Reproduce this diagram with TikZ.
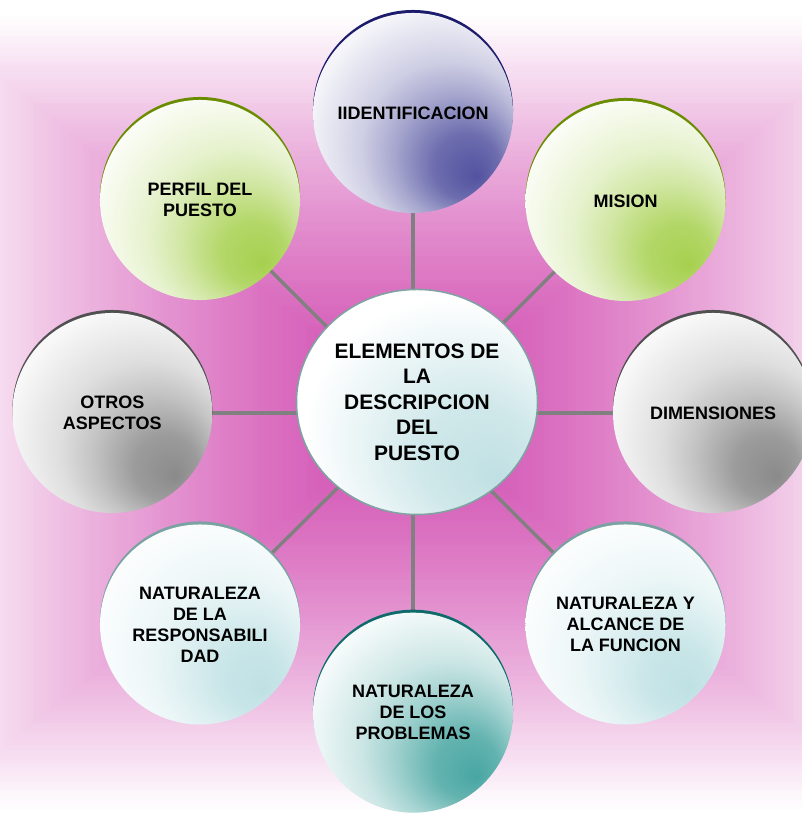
\documentclass[tikz,border=0pt]{standalone}
\usepackage{fontspec}
\setmainfont{Liberation Sans}
\usepackage{tikz}
\usetikzlibrary{shapes.geometric}
\definecolor{dpMagenta}{RGB}{210,79,178}
\definecolor{dpSpoke}{RGB}{128,128,128}
\definecolor{dpNavy}{RGB}{82,82,160}
\definecolor{dpNavyArc}{RGB}{28,28,108}
\definecolor{dpGreen}{RGB}{166,208,78}
\definecolor{dpGreenArc}{RGB}{106,140,0}
\definecolor{dpGray}{RGB}{138,138,138}
\definecolor{dpGrayArc}{RGB}{80,80,80}
\definecolor{dpMist}{RGB}{191,225,228}
\definecolor{dpMistArc}{RGB}{122,162,162}
\definecolor{dpTeal}{RGB}{72,166,162}
\definecolor{dpTealArc}{RGB}{15,107,107}
\definecolor{dpCore}{RGB}{192,224,227}
\definecolor{dpCoreLine}{RGB}{128,162,162}

\pgfdeclarelayer{backdrop}
\pgfdeclarelayer{spokes}
\pgfsetlayers{backdrop,spokes,main}

% white top-left, colour pooling bottom-right
\newcommand\ringshade[2]{\pgfdeclareradialshading{#1}{\pgfpoint{16bp}{-16bp}}{%
  color(0bp)=(#2); color(8bp)=(#2!85!white); color(16bp)=(#2!50!white);
  color(22bp)=(#2!28!white); color(32bp)=(#2!6!white);
  color(40bp)=(white); color(50bp)=(white)}}
\ringshade{navyRing}{dpNavy}
\ringshade{greenRing}{dpGreen}
\ringshade{grayRing}{dpGray}
\ringshade{mistRing}{dpMist}
\ringshade{tealRing}{dpTeal}
\pgfdeclareradialshading{coreGlow}{\pgfpoint{17bp}{-17bp}}{%
  color(0bp)=(dpCore); color(12bp)=(dpCore!75!white);
  color(30bp)=(white); color(50bp)=(white)}

\begin{document}
\begin{tikzpicture}[x=0.025cm, y=0.025cm,
  topic/.style 2 args={circle, minimum size=5cm, inner sep=0pt,
                       shade, shading=#1,
                       preaction={fill=#2, transform canvas={yshift=0.075cm}},
                       align=center, font=\bfseries\fontsize{12.8}{14.9}\selectfont},
  corebox/.style={ellipse, minimum width=6.025cm, minimum height=5.625cm,
                  inner sep=0pt, shade, shading=coreGlow,
                  draw=dpCoreLine, line width=1.1pt,
                  align=center, font=\bfseries\fontsize{14.9}{18.1}\selectfont},
  spoke/.style={draw=dpSpoke, line width=2.4pt}
]
\useasboundingbox (0,0) rectangle (801,813);
%% Pink backdrop, rectangular fade to white
\begin{pgfonlayer}{backdrop}
\fill[white] (0,0) rectangle (801,813);
\foreach \i in {120,...,1}{
  \pgfmathsetmacro\t{\i/120}
  \pgfmathtruncatemacro\pct{100*(1-\t^1.4)}
  \fill[dpMagenta!\pct!white] ({413-490*\t},{400-400*\t}) rectangle ({413+490*\t},{400+400*\t});
}
\end{pgfonlayer}
%% Centre
\coordinate (hub) at (413,400);
\node[corebox] (CORE) at (417,411) {ELEMENTOS DE\\LA\\DESCRIPCION\\DEL\\PUESTO};
%% Ring of topics
\node[topic={navyRing}{dpNavyArc}]   (IDEN) at (413,700)     {IIDENTIFICACION};
\node[topic={greenRing}{dpGreenArc}] (MISI) at (625.5,612)   {MISION};
\node[topic={grayRing}{dpGrayArc}]   (DIME) at (713,400)     {DIMENSIONES};
\node[topic={mistRing}{dpMistArc}]   (ALCA) at (625.5,188.5) {NATURALEZA Y\\ALCANCE DE\\LA FUNCION};
\node[topic={tealRing}{dpTealArc}]   (PROB) at (413,100.3)   {NATURALEZA\\DE LOS\\PROBLEMAS};
\node[topic={mistRing}{dpMistArc}]   (RESP) at (200,188.5)   {NATURALEZA\\DE LA\\RESPONSABILI\\DAD};
\node[topic={grayRing}{dpGrayArc}]   (OTRO) at (112.3,400)   {OTROS\\ASPECTOS};
\node[topic={greenRing}{dpGreenArc}] (PERF) at (200,613)     {PERFIL DEL\\PUESTO};
%% Spokes, kept under the circles
\begin{pgfonlayer}{spokes}
\draw[spoke] (hub) -- (IDEN.center);
\draw[spoke] (hub) -- (MISI.center);
\draw[spoke] (hub) -- (DIME.center);
\draw[spoke] (hub) -- (ALCA.center);
\draw[spoke] (hub) -- (PROB.center);
\draw[spoke] (hub) -- (RESP.center);
\draw[spoke] (hub) -- (OTRO.center);
\draw[spoke] (hub) -- (PERF.center);
\end{pgfonlayer}
\end{tikzpicture}
\end{document}
